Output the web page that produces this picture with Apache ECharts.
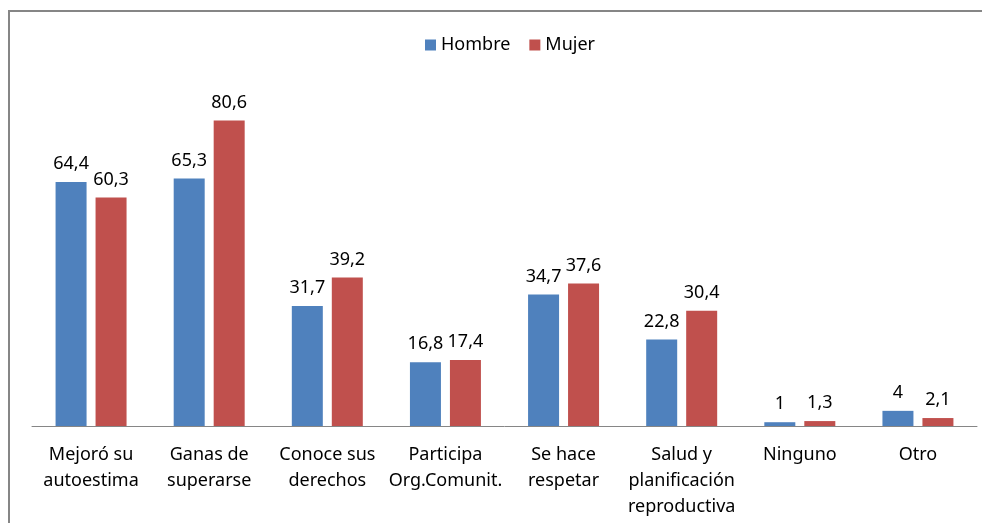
<!DOCTYPE html>
<html>
<head>
<meta charset="utf-8">
<script src="https://cdn.jsdelivr.net/npm/echarts@6/dist/echarts.min.js"></script>
<style>
  html, body { margin: 0; padding: 0; background: #fff; }
  #main { width: 982px; height: 523px; }
</style>
</head>
<body>
<div id="main"></div>
<script>
// categorias y valores (%)
var categorias = ['Mejoró su\nautoestima', 'Ganas de\nsuperarse', 'Conoce sus\nderechos', 'Participa\nOrg.Comunit.',
                  'Se hace\nrespetar', 'Salud y\nplanificación\nreproductiva', 'Ninguno', 'Otro'];
var hombre = [64.4, 65.3, 31.7, 16.8, 34.7, 22.8, 1, 4];
var mujer = [60.3, 80.6, 39.2, 17.4, 37.6, 30.4, 1.3, 2.1];

var fuente = 'Noto Sans, Open Sans, sans-serif';

function coma(p) {
    return String(p.value).replace('.', ',');
}

var myChart = echarts.init(document.getElementById('main'));

var option = {
    animation: false,
    textStyle: { fontFamily: fuente },
    graphic: [{
        type: 'rect',
        shape: { x: 9, y: 11, width: 1000, height: 600 },
        style: { fill: 'none', stroke: '#868686', lineWidth: 2 },
        silent: true
    }],
    legend: {
        top: 31,
        left: 420,
        itemWidth: 11,
        itemHeight: 11,
        itemGap: 19,
        icon: 'rect',
        textStyle: { fontSize: 18, color: '#000', fontFamily: fuente },
        data: ['Hombre', 'Mujer']
    },
    grid: { left: 32, right: 5, top: 85, bottom: 97, containLabel: false },
    xAxis: {
        type: 'category',
        data: categorias,
        axisLine: { lineStyle: { color: '#868686', width: 1 } },
        axisTick: { show: false },
        axisLabel: {
            interval: 0,
            margin: 16,
            fontSize: 18,
            lineHeight: 26,
            color: '#000',
            fontFamily: fuente
        }
    },
    yAxis: {
        type: 'value',
        min: 0,
        max: 90,
        show: false,
        splitLine: { show: false }
    },
    series: [
        {
            name: 'Hombre',
            type: 'bar',
            data: hombre,
            barWidth: 31,
            barGap: '29%',
            itemStyle: { color: '#4F81BD' },
            label: { show: true, position: 'top', distance: 9, fontSize: 18, color: '#000', formatter: coma }
        },
        {
            name: 'Mujer',
            type: 'bar',
            data: mujer,
            barWidth: 31,
            itemStyle: { color: '#C0504D' },
            label: { show: true, position: 'top', distance: 9, fontSize: 18, color: '#000', formatter: coma }
        }
    ]
};

myChart.setOption(option);
</script>
</body>
</html>
